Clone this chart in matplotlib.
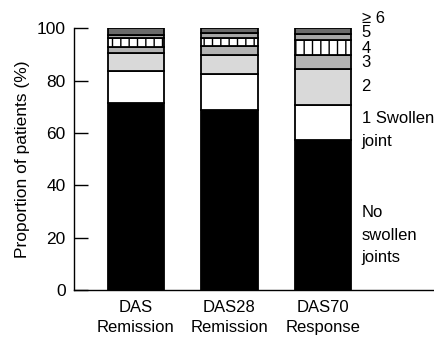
import numpy as np
import matplotlib
matplotlib.use("Agg")
import matplotlib.pyplot as plt

plt.rcParams['font.family'] = ['Liberation Sans', 'DejaVu Sans']
plt.rcParams['hatch.linewidth'] = 1.0
plt.rcParams['hatch.color'] = '#555555'

# data (% of patients by number of swollen joints)
groups = ['DAS\nRemission', 'DAS28\nRemission', 'DAS70\nResponse']
none_sj = [71.5, 69.0, 57.5]
one_sj = [12.4, 13.6, 13.4]
two_sj = [6.8, 7.3, 13.7]
three_sj = [2.1, 3.3, 5.2]
four_sj = [3.5, 3.2, 5.7]
five_sj = [1.3, 1.7, 2.2]
six_plus = [2.4, 1.9, 2.3]

segments = [none_sj, one_sj, two_sj, three_sj, four_sj, five_sj, six_plus]
colors = ['black', 'white', '#d9d9d9', '#b3b3b3', 'white', '#a6a6a6', '#6b6b6b']
hatches = [None, None, None, None, '||', None, None]

fig = plt.figure(figsize=(4.35, 3.37), dpi=100)
ax = fig.add_axes([0.170, 0.1395, 0.825, 0.776])

x = np.arange(len(groups))
bottom = np.zeros(len(groups))
for vals, col, h in zip(segments, colors, hatches):
    ax.bar(x, vals, width=0.6, bottom=bottom, color=col, edgecolor='black',
           linewidth=1.3, hatch=h)
    bottom += np.array(vals)

ax.set_xlim(-0.66, 3.17)
ax.set_ylim(0, 100)
ax.set_yticks([0, 20, 40, 60, 80, 100])
ax.set_xticks(x)
ax.set_xticklabels(groups, fontsize=12, linespacing=1.45)
ax.tick_params(axis='y', direction='in', length=10, width=1, labelsize=12.5, pad=6)
ax.tick_params(axis='x', length=0, pad=7)
ax.set_ylabel('Proportion of patients (%)', fontsize=12.5, labelpad=5)

for side in ['top', 'right']:
    ax.spines[side].set_visible(False)
for side in ['left', 'bottom']:
    ax.spines[side].set_linewidth(1.0)

# category labels next to the last bar
labels = ['\u2265 6', '5', '4', '3', '2', '1 Swollen\njoint', 'No\nswollen\njoints']
label_y = [104.0, 98.5, 92.3, 87.0, 77.8, 61.2, 21.0]
for txt, yy in zip(labels, label_y):
    ax.text(2.41, yy, txt, fontsize=12, ha='left', va='center',
            linespacing=1.65, clip_on=False)

plt.savefig('out.png', dpi=100)
plt.close()
